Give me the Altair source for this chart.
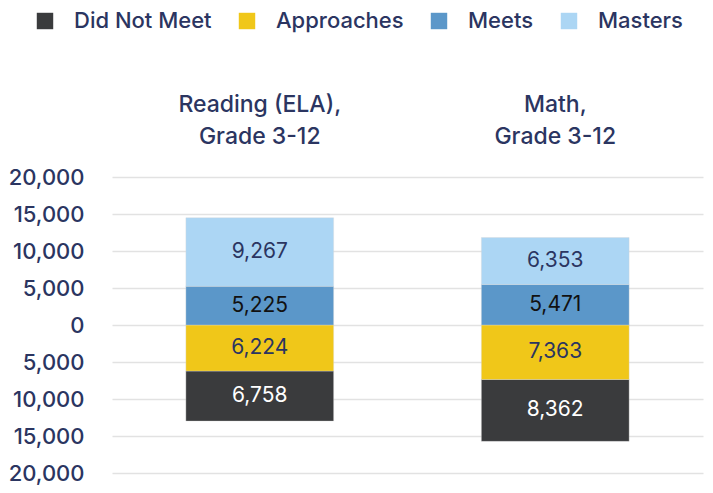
import altair as alt
import pandas as pd

categories = ["Reading (ELA),|Grade 3-12", "Math,|Grade 3-12"]
levels = ["Did Not Meet", "Approaches", "Meets", "Masters"]
did_not_meet = [6758, 8362]
approaches = [6224, 7363]
meets = [5225, 5471]
masters = [9267, 6353]
tick_values = [-20000, -15000, -10000, -5000, 0, 5000, 10000, 15000, 20000]

level_colors = ["#3a3b3d", "#f0c719", "#5b97c9", "#acd6f4"]
text_colors = ["#ffffff", "#2b3561", "#111111", "#2b3561"]
NAVY = "#2b3561"
FONT = "Inter"

rows = []
for i, c in enumerate(categories):
    rows.append({"cat": c, "level": "Did Not Meet", "value": -did_not_meet[i], "count": did_not_meet[i], "ord": 1})
    rows.append({"cat": c, "level": "Approaches", "value": -approaches[i], "count": approaches[i], "ord": 0})
    rows.append({"cat": c, "level": "Meets", "value": meets[i], "count": meets[i], "ord": 0})
    rows.append({"cat": c, "level": "Masters", "value": masters[i], "count": masters[i], "ord": 1})
df = pd.DataFrame(rows)

base = alt.Chart(df).transform_stack(
    stack="value", groupby=["cat"], sort=[alt.SortField("ord", order="ascending")], as_=["y0", "y1"]
).transform_calculate(mid="(datum.y0 + datum.y1) / 2")

x_axis = alt.Axis(
    orient="top", title=None, labelAngle=0, domain=False, ticks=False, grid=False,
    labelExpr="split(datum.label, '|')", labelFontSize=23, labelColor=NAVY,
    labelFont=FONT, labelFontWeight=500, labelLineHeight=32, labelPadding=61,
)
x_scale = alt.Scale(paddingInner=0.5, paddingOuter=0.25)

y_axis = alt.Axis(
    title=None, values=tick_values, labelOverlap=False, tickCount=9,
    labelExpr="format(abs(datum.value), ',')", domain=False, ticks=False,
    labelFontSize=22, labelColor=NAVY, labelFont=FONT, labelFontWeight=500,
    labelPadding=28, gridColor="#e2e2e2", gridWidth=1.5,
)
y_scale = alt.Scale(domain=[-20000, 20000])

bars = base.mark_bar(stroke="#d8d8d8", strokeWidth=0.6, strokeOpacity=0.6).encode(
    x=alt.X("cat:N", sort=categories, scale=x_scale, axis=x_axis),
    y=alt.Y("y0:Q", scale=y_scale, axis=y_axis),
    y2="y1:Q",
    color=alt.Color(
        "level:N",
        scale=alt.Scale(domain=levels, range=level_colors),
        legend=alt.Legend(
            title=None, orient="none", direction="horizontal", legendX=-78, legendY=-167,
            symbolType="square", symbolSize=270, symbolStrokeWidth=0, symbolOpacity=1,
            labelFontSize=22, labelColor=NAVY, labelFont=FONT, labelFontWeight=500,
            labelOffset=18, columnPadding=24, padding=0,
        ),
    ),
)

labels = base.mark_text(font=FONT, fontSize=21, baseline="middle").encode(
    x=alt.X("cat:N", sort=categories, scale=x_scale, axis=x_axis),
    y=alt.Y("mid:Q", scale=y_scale, axis=y_axis),
    text=alt.Text("count:Q", format=","),
    color=alt.Color("level:N", scale=alt.Scale(domain=levels, range=text_colors), legend=None),
)

chart = alt.layer(bars, labels).resolve_scale(color="independent").properties(
    width=591, height=296,
    autosize=alt.AutoSizeParams(type="none"),
    padding={"left": 104, "top": 169, "right": 2, "bottom": 12},
).configure(background="white").configure_view(stroke=None)

chart.save("out.html", embed_options={"renderer": "svg", "actions": False})
